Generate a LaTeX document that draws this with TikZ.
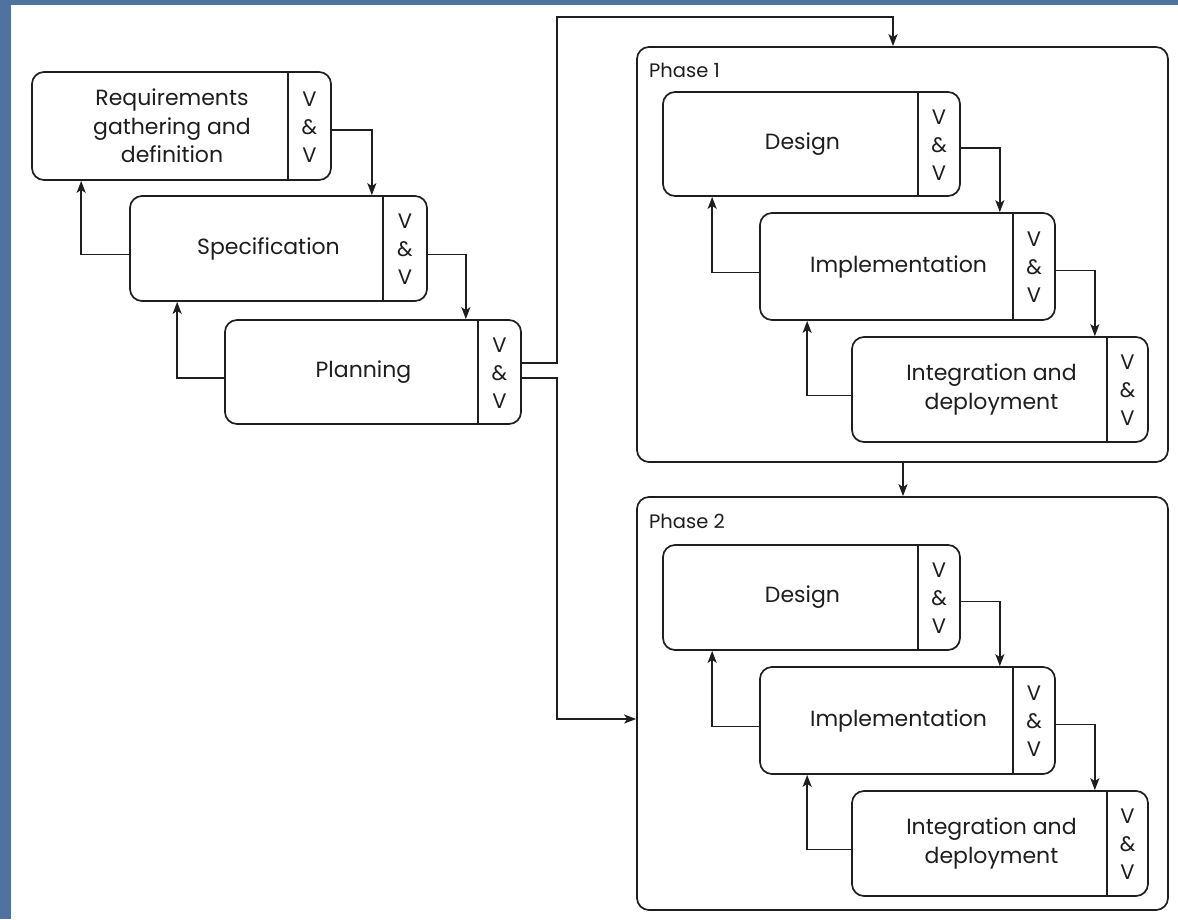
\documentclass[tikz,border=0pt]{standalone}
\usepackage{fontspec}
\setmainfont{Poppins}
\usetikzlibrary{arrows.meta,calc}
\definecolor{bgblue}{RGB}{80,114,158}
\definecolor{ink}{RGB}{30,30,30}
\tikzset{
  box/.style={draw=ink, line width=1.7pt, rounded corners=12pt, fill=white, inner sep=0pt},
  lbl/.style={inner sep=0pt, align=center, text=ink, font=\fontsize{22}{28.5}\selectfont},
  phlbl/.style={inner sep=0pt, text=ink, font=\fontsize{19.5}{24}\selectfont},
  vv/.style={inner sep=0pt, align=center, text=ink, font=\fontsize{21}{28}\selectfont},
  divline/.style={draw=ink, line width=1.7pt},
  arr/.style={draw=ink, line width=1.7pt, -{Stealth[length=12pt,width=9pt,inset=3pt]}}
}
% name, left, top, right, bottom, divider, text
\newcommand{\vvbox}[7]{%
  \node[box, minimum width={#4pt-#2pt}, minimum height={#5pt-#3pt}] (#1) at ({(#2+#4)/2},{(#3+#5)/2}) {};
  \draw[divline] (#6,#3) -- (#6,#5);
  \node[lbl] (#1t) at ({(#2+#6)/2+12},{(#3+#5)/2}) {#7};
  \node[vv] (#1v) at ({(#6+#4)/2},{(#3+#5)/2+1}) {V\\\&\\V};
}
\begin{document}
\begin{tikzpicture}[x=1pt,y=-1pt]
\fill[bgblue] (0,0) rectangle (1178,919);
\fill[white] (11,5) rectangle (1178,919);
\useasboundingbox (0,0) rectangle (1178,919);

% phase containers
\node[box, minimum width=531pt, minimum height=415pt] (ph1) at (902.5,254.5) {};
\node[phlbl, anchor=west] (ph1t) at (649,70) {Phase 1};
\node[box, minimum width=531pt, minimum height=413pt] (ph2) at (902.5,703.5) {};
\node[phlbl, anchor=west] (ph2t) at (649,521) {Phase 2};

% left column
\vvbox{req}{32}{72}{331}{180}{288}{Requirements\\gathering and\\definition}
\vvbox{spec}{130}{196}{427}{301}{383}{Specification}
\vvbox{plan}{225}{320}{521}{424}{478}{Planning}

% phase 1
\vvbox{pa}{663}{92}{960}{196}{918}{Design}
\vvbox{pb}{760}{213}{1055}{320}{1013}{Implementation}
\vvbox{pc}{852}{337}{1148}{442}{1107}{Integration and\\deployment}

% phase 2
\vvbox{qa}{663}{545}{960}{650}{918}{Design}
\vvbox{qb}{760}{667}{1055}{774}{1013}{Implementation}
\vvbox{qc}{852}{791}{1148}{896}{1107}{Integration and\\deployment}

% forward arrows, left column
\draw[arr] ([yshift=-4pt]req.east) -| ([xshift=-56pt]spec.north east);
\draw[arr] ([yshift=-6pt]spec.east) -| ([xshift=-56pt]plan.north east);
% back arrows, left column
\draw[arr] ([yshift=-6pt]spec.west) -| ([xshift=50pt]req.south west);
\draw[arr] ([yshift=-6pt]plan.west) -| ([xshift=48pt]spec.south west);

% phase 1 arrows
\draw[arr] ([yshift=-4pt]pa.east) -| ([xshift=-56pt]pb.north east);
\draw[arr] ([yshift=-4pt]pb.east) -| ([xshift=-54pt]pc.north east);
\draw[arr] ([yshift=-6pt]pb.west) -| ([xshift=50pt]pa.south west);
\draw[arr] ([yshift=-6pt]pc.west) -| ([xshift=48pt]pb.south west);

% phase 2 arrows
\draw[arr] ([yshift=-4pt]qa.east) -| ([xshift=-56pt]qb.north east);
\draw[arr] ([yshift=-4pt]qb.east) -| ([xshift=-54pt]qc.north east);
\draw[arr] ([yshift=-6pt]qb.west) -| ([xshift=50pt]qa.south west);
\draw[arr] ([yshift=-6pt]qc.west) -| ([xshift=48pt]qb.south west);

% planning to phases
\coordinate (jn1) at (557,17);
\coordinate (jn2) at (557,719);
\draw[arr] ([yshift=9pt]plan.east) -| (jn1) -| ([xshift=-9.5pt]ph1.north);
\draw[arr] ([yshift=-6pt]plan.east) -| (jn2) -- (ph2.west |- jn2);
\draw[arr] ([xshift=0.5pt]ph1.south) -- ([xshift=0.5pt]ph2.north);
\end{tikzpicture}
\end{document}
